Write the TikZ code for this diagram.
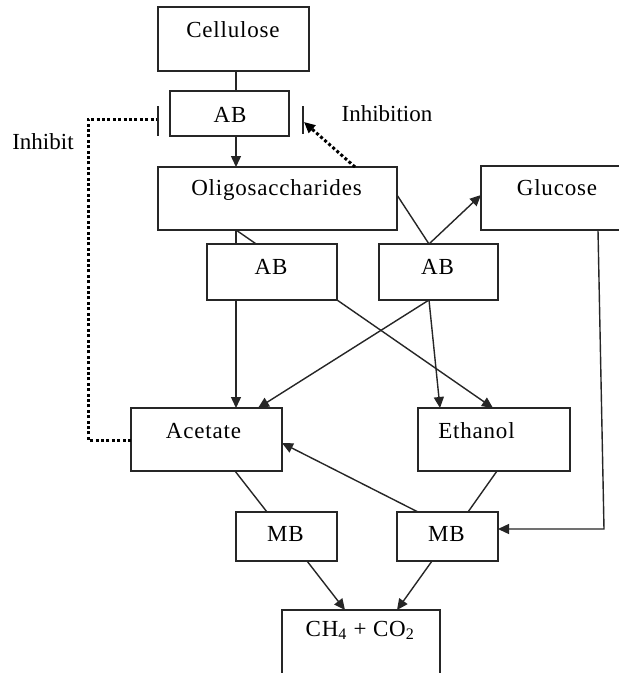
\documentclass[tikz,border=0pt]{standalone}
\usepackage{fontspec}
\setmainfont{Liberation Serif}
\newfontfamily\boxfont[LetterSpace=3.5]{Liberation Serif}
\usetikzlibrary{arrows.meta}
\pgfdeclarelayer{back}
\pgfsetlayers{back,main}
\begin{document}
\begin{tikzpicture}[x=1pt,y=-1pt,
  box/.style={draw=black!85, fill=white, line width=1.5pt, inner sep=0pt, outer sep=0pt, anchor=north west},
  lbl/.style={font=\boxfont\fontsize{23}{27}\selectfont, anchor=base, inner sep=0pt},
  note/.style={font=\fontsize{23}{27}\selectfont, anchor=base, inner sep=0pt},
  link/.style={draw=black!85, line width=1.4pt},
  flow/.style={draw=black!85, line width=1.4pt, -{Triangle[length=11pt,width=10pt]}},
  dots/.style={draw=black, line width=3pt, dash pattern=on 3pt off 2.4pt},
  tbar/.style={draw=black!85, line width=1.7pt},
]
\useasboundingbox (0,0) rectangle (619,673);
\clip (0,0) rectangle (619,673);

% boxes
\node[box, minimum width=151pt, minimum height=64pt] (cell) at (158,7) {};
\node[box, minimum width=119pt, minimum height=45pt] (ab1) at (170,91) {};
\node[box, minimum width=239pt, minimum height=63pt] (oli) at (158,167) {};
\node[box, minimum width=152pt, minimum height=64pt] (glu) at (481,166) {};
\node[box, minimum width=130pt, minimum height=56pt] (ab2) at (207,244) {};
\node[box, minimum width=119pt, minimum height=56pt] (ab3) at (379,244) {};
\node[box, minimum width=151pt, minimum height=63pt] (ace) at (131,408) {};
\node[box, minimum width=152pt, minimum height=63pt] (eth) at (418,408) {};
\node[box, minimum width=101pt, minimum height=49pt] (mb1) at (236,512) {};
\node[box, minimum width=101pt, minimum height=49pt] (mb2) at (397,512) {};
\node[box, minimum width=158pt, minimum height=80pt] (ch) at (282,610) {};

% box labels
\node[lbl] (tcell) at (233,37) {Cellulose};
\node[lbl] (tab1) at (230,122) {AB};
\node[lbl] (toli) at (276.5,195) {Oligosaccharides};
\node[lbl] (tglu) at (557,195) {Glucose};
\node[lbl] (tab2) at (271,274) {AB};
\node[lbl] (tab3) at (437.5,274) {AB};
\node[lbl] (tace) at (203.5,438) {Acetate};
\node[lbl] (teth) at (476.5,438) {Ethanol};
\node[lbl] (tmb1) at (285.5,541) {MB};
\node[lbl] (tmb2) at (446.5,541) {MB};
\node[lbl] (tch) at (360,636) {CH\textsubscript{4} + CO\textsubscript{2}};

% free labels
\node[note] (tinh) at (387,121) {Inhibition};
\node[note] (tinb) at (43,149) {Inhibit};

% page and the connector that runs behind the middle AB box
\begin{pgfonlayer}{back}
  \fill[white] (0,0) rectangle (619,673);
  \draw[flow] ([xshift=78pt]oli.south west) -- ([xshift=75pt]eth.north west);
\end{pgfonlayer}

% main chain
\draw[link] ([xshift=78pt]cell.south west) -- ([xshift=66pt]ab1.north west);
\draw[flow] ([xshift=66pt]ab1.south west) -- ([xshift=78pt]oli.north west);
\draw[link] ([xshift=78pt]oli.south west) -- ([xshift=29pt]ab2.north west);
\draw[flow] ([xshift=29pt]ab2.south west) -- ([xshift=105pt]ace.north west);
\draw[link] ([yshift=-28pt]oli.north east) -- ([xshift=50pt]ab3.north west);
\draw[flow] ([xshift=50pt]ab3.north west) -- ([yshift=-29pt]glu.north west);
\draw[flow] ([xshift=50pt]ab3.south west) -- ([xshift=127pt]ace.north west);
\draw[flow] ([xshift=50pt]ab3.south west) -- ([xshift=22pt]eth.north west);

% glucose to the methanogens
\coordinate (gbend) at (604,529);
\draw[flow] ([xshift=117pt]glu.south west) -- (gbend) -- ([yshift=-17pt]mb2.north east);
\draw[flow] ([xshift=21pt]mb2.north west) -- ([yshift=-35pt]ace.north east);

% methanogenesis
\draw[link] ([xshift=104pt]ace.south west) -- ([xshift=31pt]mb1.north west);
\draw[link] ([xshift=79pt]eth.south west) -- ([xshift=71pt]mb2.north west);
\draw[flow] ([xshift=71pt]mb1.south west) -- ([xshift=63pt]ch.north west);
\draw[flow] ([xshift=35pt]mb2.south west) -- ([xshift=115pt]ch.north west);

% feedback inhibition by acetate
\coordinate (lc1) at (88,440);
\coordinate (lc2) at (88,119);
\coordinate (barL) at (158,119);
\draw[dots] ([yshift=-32pt]ace.north west) -- (lc1) -- (lc2) -- (barL);
\draw[tbar] ([yshift=13pt]barL) -- ([yshift=-17pt]barL);

% inhibition by oligosaccharides
\coordinate (barR) at (303,120);
\coordinate (inhtip) at (304,122);
\draw[dots, -{Triangle[length=11pt,width=10pt]}] ([xshift=197pt]oli.north west) -- (inhtip);
\draw[tbar] ([yshift=14pt]barR) -- ([yshift=-14pt]barR);
\end{tikzpicture}
\end{document}
